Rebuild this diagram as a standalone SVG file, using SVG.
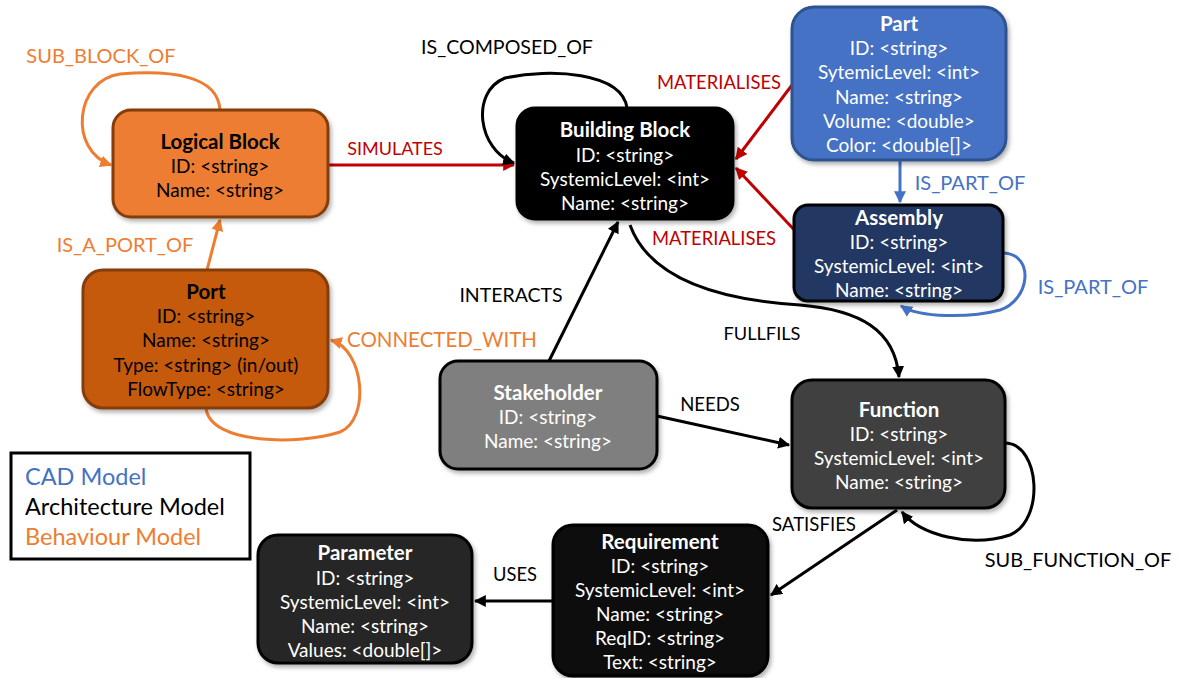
<svg xmlns="http://www.w3.org/2000/svg" width="1180" height="678" viewBox="0 0 1180 678">
<defs>
<style>
text{font-family:Lato,"Liberation Sans",sans-serif;font-size:19px;text-anchor:middle}
.t{font-weight:bold;font-size:20.5px}
.w{fill:#fff}
.k{fill:#000}
.or{fill:#ED7D31}.rd{fill:#C00000}.bl{fill:#4472C4}.bk{fill:#000}
.c{fill:none;stroke-width:3}
.co{stroke:#ED7D31}.cr{stroke:#C00000}.cb{stroke:#4472C4}.ck{stroke:#000}
.n{stroke-width:3}
.lg{text-anchor:start;font-size:23.5px}
</style>
<marker id="ak" viewBox="0 0 10 10" refX="9" refY="5" markerWidth="4" markerHeight="4" orient="auto" markerUnits="strokeWidth"><path d="M0,0L10,5L0,10z" fill="#000"/></marker>
<marker id="ao" viewBox="0 0 10 10" refX="9" refY="5" markerWidth="4" markerHeight="4" orient="auto" markerUnits="strokeWidth"><path d="M0,0L10,5L0,10z" fill="#ED7D31"/></marker>
<marker id="ar" viewBox="0 0 10 10" refX="9" refY="5" markerWidth="4" markerHeight="4" orient="auto" markerUnits="strokeWidth"><path d="M0,0L10,5L0,10z" fill="#C00000"/></marker>
<marker id="ab" viewBox="0 0 10 10" refX="9" refY="5" markerWidth="4" markerHeight="4" orient="auto" markerUnits="strokeWidth"><path d="M0,0L10,5L0,10z" fill="#4472C4"/></marker>
<filter id="sh" x="-10%" y="-10%" width="130%" height="130%"><feDropShadow dx="2" dy="3" stdDeviation="2" flood-color="#000" flood-opacity="0.3"/></filter>
</defs>
<rect width="1180" height="678" fill="#fff"/>

<g id="connectors">
<path class="c co" d="M220,110 C218,75 170,70 120,74 C75,80 68,150 111,165" marker-end="url(#ao)"/>
<path class="c cr" d="M328,165 L514,165" marker-end="url(#ar)"/>
<path class="c ck" d="M627,108 C622,72 550,68 505,78 C470,92 478,150 514,163" marker-end="url(#ak)"/>
<path class="c cr" d="M792,85 L736,159" marker-end="url(#ar)"/>
<path class="c cr" d="M800,236 L736,168" marker-end="url(#ar)"/>
<path class="c cb" d="M900,160 L900,202" marker-end="url(#ab)"/>
<path class="c cb" d="M1004,253 C1035,255 1030,300 1000,310 C970,318 920,318 901,306" marker-end="url(#ab)"/>
<path class="c co" d="M207,270 L220,220" marker-end="url(#ao)"/>
<path class="c co" d="M206,408 C210,445 300,445 340,432 C370,420 365,350 331,340" marker-end="url(#ao)"/>
<path class="c ck" d="M549,361 L618,222" marker-end="url(#ak)"/>
<path class="c ck" d="M630,225 C650,280 720,300 800,305 C860,310 895,330 899,377" marker-end="url(#ak)"/>
<path class="c ck" d="M657,416 L789,445" marker-end="url(#ak)"/>
<path class="c ck" d="M1006,443 C1040,445 1045,520 1010,535 C970,548 920,535 902,512" marker-end="url(#ak)"/>
<path class="c ck" d="M897,510 L771,595" marker-end="url(#ak)"/>
<path class="c ck" d="M553,601 L475,601" marker-end="url(#ak)"/>
</g>

<g id="edge-labels">
<text class="or" x="101" y="63" style="font-size:20px">SUB_BLOCK_OF</text>
<text class="rd" x="395" y="155" style="font-size:18px">SIMULATES</text>
<text class="bk" x="507" y="54" style="font-size:19.6px">IS_COMPOSED_OF</text>
<text class="rd" x="719" y="89" style="font-size:18.4px">MATERIALISES</text>
<text class="rd" x="714" y="245" style="font-size:18.4px">MATERIALISES</text>
<text class="bl" x="970" y="190" style="font-size:20px">IS_PART_OF</text>
<text class="bl" x="1093" y="294" style="font-size:20px">IS_PART_OF</text>
<text class="or" x="125" y="252" style="font-size:20px">IS_A_PORT_OF</text>
<text class="or" x="442" y="347" style="font-size:20.5px">CONNECTED_WITH</text>
<text class="bk" x="511" y="302" style="font-size:19.5px">INTERACTS</text>
<text class="bk" x="762" y="340" style="font-size:18.2px">FULLFILS</text>
<text class="bk" x="710" y="411" style="font-size:18.5px">NEEDS</text>
<text class="bk" x="1078" y="567" style="font-size:19.9px">SUB_FUNCTION_OF</text>
<text class="bk" x="814" y="531" style="font-size:18.6px">SATISFIES</text>
<text class="bk" x="515" y="581" style="font-size:18.3px">USES</text>
</g>

<g id="logical-block">
<rect x="113" y="110" width="215" height="107" rx="18" fill="#ED7D31" stroke="#843C0C" class="n" filter="url(#sh)"/>
<text class="t k" x="220" y="149">Logical Block</text>
<text class="k" x="220" y="173">ID: &lt;string&gt;</text>
<text class="k" x="220" y="197">Name: &lt;string&gt;</text>
</g>

<g id="building-block">
<rect x="517" y="108" width="216" height="111" rx="18" fill="#000" stroke="#000" class="n" filter="url(#sh)"/>
<text class="t w" x="625" y="137">Building Block</text>
<text class="w" x="625" y="162">ID: &lt;string&gt;</text>
<text class="w" x="625" y="186">SystemicLevel: &lt;int&gt;</text>
<text class="w" x="625" y="210">Name: &lt;string&gt;</text>
</g>

<g id="part">
<rect x="792" y="7" width="214" height="153" rx="22" fill="#4472C4" stroke="#2F528F" class="n" filter="url(#sh)"/>
<text class="t w" x="899" y="31">Part</text>
<text class="w" x="899" y="55">ID: &lt;string&gt;</text>
<text class="w" x="899" y="79">SytemicLevel: &lt;int&gt;</text>
<text class="w" x="899" y="104">Name: &lt;string&gt;</text>
<text class="w" x="899" y="128">Volume: &lt;double&gt;</text>
<text class="w" x="899" y="152">Color: &lt;double[]&gt;</text>
</g>

<g id="assembly">
<rect x="794" y="205" width="209" height="96" rx="14" fill="#203864" stroke="#000" class="n" filter="url(#sh)"/>
<text class="t w" x="899" y="225">Assembly</text>
<text class="w" x="899" y="249">ID: &lt;string&gt;</text>
<text class="w" x="899" y="273">SystemicLevel: &lt;int&gt;</text>
<text class="w" x="899" y="297">Name: &lt;string&gt;</text>
</g>

<g id="port">
<rect x="83" y="270" width="245" height="138" rx="20" fill="#C55A11" stroke="#843C0C" class="n" filter="url(#sh)"/>
<text class="t k" x="206" y="299">Port</text>
<text class="k" x="206" y="323">ID: &lt;string&gt;</text>
<text class="k" x="206" y="347">Name: &lt;string&gt;</text>
<text class="k" x="206" y="372">Type: &lt;string&gt; (in/out)</text>
<text class="k" x="206" y="396">FlowType: &lt;string&gt;</text>
</g>

<g id="stakeholder">
<rect x="440" y="361" width="217" height="108" rx="18" fill="#7F7F7F" stroke="#000" class="n" filter="url(#sh)"/>
<text class="t w" x="548" y="400">Stakeholder</text>
<text class="w" x="548" y="424">ID: &lt;string&gt;</text>
<text class="w" x="548" y="448">Name: &lt;string&gt;</text>
</g>

<g id="function">
<rect x="792" y="380" width="213" height="128" rx="20" fill="#404040" stroke="#000" class="n" filter="url(#sh)"/>
<text class="t w" x="899" y="417">Function</text>
<text class="w" x="899" y="441">ID: &lt;string&gt;</text>
<text class="w" x="899" y="465">SystemicLevel: &lt;int&gt;</text>
<text class="w" x="899" y="489">Name: &lt;string&gt;</text>
</g>

<g id="requirement">
<rect x="553" y="525" width="215" height="151" rx="20" fill="#0D0D0D" stroke="#000" class="n" filter="url(#sh)"/>
<text class="t w" x="660" y="549">Requirement</text>
<text class="w" x="660" y="573">ID: &lt;string&gt;</text>
<text class="w" x="660" y="597">SystemicLevel: &lt;int&gt;</text>
<text class="w" x="660" y="621">Name: &lt;string&gt;</text>
<text class="w" x="660" y="645">ReqID: &lt;string&gt;</text>
<text class="w" x="660" y="669">Text: &lt;string&gt;</text>
</g>

<g id="parameter">
<rect x="258" y="535" width="214" height="128" rx="20" fill="#262626" stroke="#000" class="n" filter="url(#sh)"/>
<text class="t w" x="365" y="560">Parameter</text>
<text class="w" x="365" y="585">ID: &lt;string&gt;</text>
<text class="w" x="365" y="609">SystemicLevel: &lt;int&gt;</text>
<text class="w" x="365" y="633">Name: &lt;string&gt;</text>
<text class="w" x="365" y="657">Values: &lt;double[]&gt;</text>
</g>

<g id="legend">
<rect x="11" y="453" width="239" height="106" fill="#fff" stroke="#000" stroke-width="3"/>
<text class="lg" x="25" y="485" fill="#4472C4">CAD Model</text>
<text class="lg" x="25" y="515" fill="#000">Architecture Model</text>
<text class="lg" x="25" y="545" fill="#ED7D31">Behaviour Model</text>
</g>
</svg>
